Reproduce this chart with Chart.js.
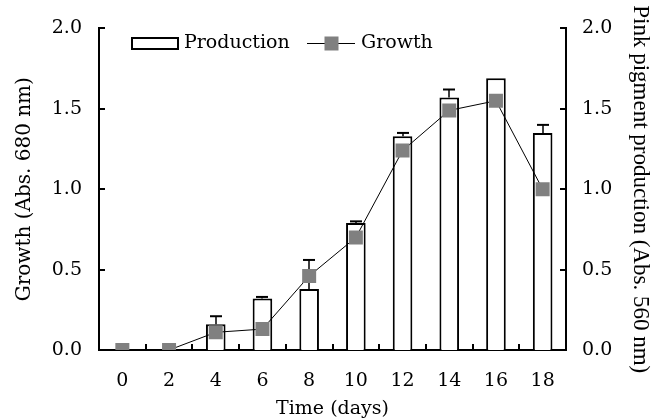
<!DOCTYPE html>
<html><head><meta charset="utf-8">
<script src="https://cdn.jsdelivr.net/npm/chart.js@4"></script>
<style>html,body{margin:0;padding:0;background:#fff;}</style>
</head><body>
<canvas id="c" width="661" height="418"></canvas>
<script>
const days = ['0','2','4','6','8','10','12','14','16','18'];
const growth = [0, 0, 0.11, 0.13, 0.46, 0.70, 1.24, 1.49, 1.55, 1.00];
const production = [0, 0, 0.16, 0.32, 0.38, 0.79, 1.33, 1.57, 1.69, 1.35];
const productionErr = [0, 0, 0.05, 0.01, 0.18, 0.01, 0.02, 0.05, 0, 0.05];
const yTicks = [0, 0.5, 1.0, 1.5, 2.0];

Chart.defaults.font.family = '"DejaVu Serif"';
Chart.defaults.font.size = 19;
Chart.defaults.color = '#000';

const inwardTicks = {
  id: 'inwardTicks',
  afterDraw(chart) {
    const {ctx, chartArea: a, scales} = chart;
    ctx.save();
    ctx.strokeStyle = '#000';
    ctx.lineWidth = 2;
    ctx.beginPath();
    scales.y.ticks.forEach(t => {
      const py = Math.round(scales.y.getPixelForValue(t.value));
      ctx.moveTo(a.left, py); ctx.lineTo(a.left + 6, py);
    });
    scales.y1.ticks.forEach(t => {
      const py = Math.round(scales.y1.getPixelForValue(t.value));
      ctx.moveTo(a.right, py); ctx.lineTo(a.right - 6, py);
    });
    const x = scales.x;
    const step = x.getPixelForValue(1) - x.getPixelForValue(0);
    for (let i = 1; i < days.length; i++) {
      const px = Math.round(x.getPixelForValue(i) - step / 2);
      ctx.moveTo(px, a.bottom); ctx.lineTo(px, a.bottom - 6);
    }
    ctx.stroke();
    ctx.restore();
  }
};

const errorBars = {
  id: 'errorBars',
  afterDatasetDraw(chart, args) {
    const meta = args.meta;
    if (meta.type !== 'bar') return;
    const {ctx} = chart;
    const ys = chart.scales[meta.yAxisID];
    ctx.save();
    ctx.strokeStyle = '#000';
    meta.data.forEach((el, i) => {
      const e = productionErr[i];
      if (!e) return;
      const x = Math.round(el.x);
      const top = ys.getPixelForValue(production[i] + e);
      ctx.lineWidth = 1.5;
      ctx.beginPath(); ctx.moveTo(x, el.y); ctx.lineTo(x, top); ctx.stroke();
      ctx.lineWidth = 2;
      ctx.beginPath(); ctx.moveTo(x - 6, top); ctx.lineTo(x + 6, top); ctx.stroke();
    });
    ctx.restore();
  }
};

const insideLegend = {
  id: 'insideLegend',
  afterDraw(chart) {
    const {ctx} = chart;
    const ds = chart.data.datasets;
    const bar = ds.find(d => d.type === 'bar');
    const line = ds.find(d => d.type === 'line');
    const cy = 43.5;
    ctx.save();
    ctx.font = '19px "DejaVu Serif"';
    ctx.textBaseline = 'middle';
    ctx.fillStyle = bar.backgroundColor;
    ctx.fillRect(132, 38, 46, 11);
    ctx.strokeStyle = bar.borderColor;
    ctx.lineWidth = 2;
    ctx.strokeRect(132, 38, 46, 11);
    ctx.fillStyle = '#000';
    ctx.fillText(bar.label, 184, cy);
    ctx.beginPath();
    ctx.lineWidth = 1;
    ctx.strokeStyle = line.borderColor;
    ctx.moveTo(307, cy); ctx.lineTo(355, cy);
    ctx.stroke();
    ctx.fillStyle = line.pointBackgroundColor;
    ctx.fillRect(324.5, cy - 7, 14, 14);
    ctx.fillStyle = '#000';
    ctx.fillText(line.label, 361, cy);
    ctx.restore();
  }
};

new Chart(document.getElementById('c'), {
  data: {
    labels: days,
    datasets: [
      {
        type: 'line', label: 'Growth', data: growth, yAxisID: 'y', order: 1,
        borderColor: '#000', borderWidth: 1, tension: 0,
        pointStyle: 'rect', pointRadius: 9.9, pointBorderWidth: 0,
        pointBackgroundColor: '#808080', pointBorderColor: '#808080'
      },
      {
        type: 'bar', label: 'Production', data: production, yAxisID: 'y1', order: 2,
        backgroundColor: '#ffffff', borderColor: '#000', borderWidth: 2,
        barPercentage: 0.42, categoryPercentage: 1
      }
    ]
  },
  options: {
    responsive: false,
    devicePixelRatio: 1,
    animation: false,
    layout: { autoPadding: false, padding: { top: 27, left: 0, right: 0, bottom: 0 } },
    plugins: { legend: { display: false }, tooltip: { enabled: false } },
    scales: {
      x: {
        type: 'category', offset: true,
        grid: { display: false, drawTicks: false },
        border: { display: true, color: '#000', width: 2 },
        ticks: { padding: 20, maxRotation: 0, font: { size: 19 } },
        title: { display: true, text: 'Time (days)', font: { size: 19 }, padding: { top: 0, bottom: -2 } },
        afterFit: s => { s.height = 68; }
      },
      y: {
        position: 'left', min: 0, max: 2,
        grid: { display: false, drawTicks: false },
        border: { display: true, color: '#000', width: 2 },
        afterBuildTicks: s => { s.ticks = yTicks.map(v => ({ value: v })); },
        ticks: { padding: 17, callback: v => Number(v).toFixed(1), font: { size: 19 } },
        title: { display: true, text: 'Growth (Abs. 680 nm)', font: { size: 20 }, padding: { top: 13, bottom: 0 } },
        afterFit: s => { s.width = 99; }
      },
      y1: {
        position: 'right', min: 0, max: 2,
        grid: { display: false, drawTicks: false },
        border: { display: true, color: '#000', width: 2 },
        afterBuildTicks: s => { s.ticks = yTicks.map(v => ({ value: v })); },
        ticks: { padding: 16, callback: v => Number(v).toFixed(1), font: { size: 19 } },
        title: { display: true, text: 'Pink pigment production (Abs. 560 nm)', font: { family: '"Liberation Serif"', size: 23 }, padding: { top: 7, bottom: 0 } },
        afterFit: s => { s.width = 95; }
      }
    }
  },
  plugins: [errorBars, inwardTicks, insideLegend]
});
</script>
</body></html>
